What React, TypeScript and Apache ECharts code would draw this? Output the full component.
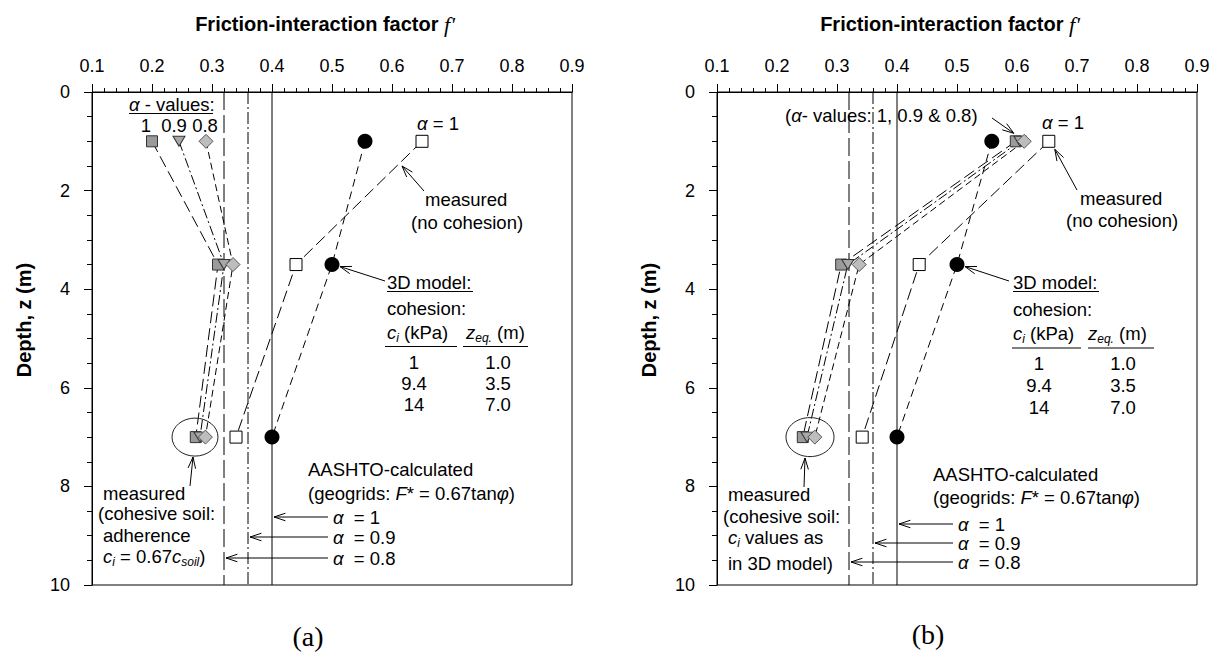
import React, { useEffect, useRef } from "react";
import * as echarts from "echarts";

// ---------- data ----------
const depths = [1, 3.5, 7];
// panel (a)
const aMeasuredNoCoh = [0.65, 0.44, 0.34];
const aModel3D = [0.555, 0.5, 0.4];
const aAlpha1 = [0.2, 0.31, 0.273];
const aAlpha09 = [0.245, 0.32, 0.28];
const aAlpha08 = [0.29, 0.335, 0.289];
// panel (b)
const bMeasuredNoCoh = [0.653, 0.437, 0.342];
const bModel3D = [0.558, 0.5, 0.4];
const bAlpha1 = [0.598, 0.307, 0.243];
const bAlpha09 = [0.605, 0.318, 0.25];
const bAlpha08 = [0.612, 0.337, 0.263];
// AASHTO-calculated f* for alpha = 1, 0.9, 0.8
const alphaValues = ["1", "0.9", "0.8"];
const aashto = [0.4, 0.36, 0.32];
// 3D model cohesion table
const cohesionKPa = ["1", "9.4", "14"];
const zEq = ["1.0", "3.5", "7.0"];

const FONT = "'Liberation Sans', Arial, Helvetica, sans-serif";
const FS = 18.5;

const RICH: any = {
  i: { fontStyle: "italic", fontSize: FS, fontFamily: FONT, lineHeight: 24 },
  s: { fontStyle: "italic", fontSize: 12, fontFamily: FONT, verticalAlign: "bottom", lineHeight: 12 },
};

function T(text: string, x: number, y: number, extra: any = {}) {
  return {
    type: "text",
    x,
    y,
    silent: true,
    z: 100,
    style: {
      text,
      fill: "#000",
      fontSize: FS,
      fontFamily: FONT,
      align: "left",
      verticalAlign: "middle",
      lineHeight: 24,
      rich: RICH,
      ...extra,
    },
  };
}
function L(x1: number, y1: number, x2: number, y2: number, extra: any = {}) {
  return {
    type: "line",
    silent: true,
    z: 100,
    shape: { x1, y1, x2, y2 },
    style: { stroke: "#000", lineWidth: 1, ...extra },
  };
}
function arrow(x1: number, y1: number, x2: number, y2: number) {
  const a = Math.atan2(y2 - y1, x2 - x1);
  const len = 12;
  const ang = 0.32;
  const p1 = [x2 - len * Math.cos(a - ang), y2 - len * Math.sin(a - ang)];
  const p2 = [x2 - len * Math.cos(a + ang), y2 - len * Math.sin(a + ang)];
  return [
    L(x1, y1, x2, y2),
    {
      type: "polyline",
      silent: true,
      z: 100,
      shape: { points: [p1, [x2, y2], p2] },
      style: { stroke: "#000", fill: null, lineWidth: 1 },
    },
  ];
}

function axesFor(gridIndex: number) {
  const x = {
    type: "value",
    gridIndex,
    position: "top",
    min: 0.1,
    max: 0.9,
    interval: 0.1,
    axisLine: { show: true, onZero: false, lineStyle: { color: "#000", width: 1 } },
    axisTick: { show: true, length: 8, lineStyle: { color: "#000", width: 1 } },
    minorTick: { show: true, splitNumber: 5, length: 4, lineStyle: { color: "#000", width: 1 } },
    splitLine: { show: false },
    minorSplitLine: { show: false },
    axisLabel: {
      fontSize: 18,
      color: "#000",
      fontFamily: FONT,
      margin: 17,
      formatter: (v: number) => v.toFixed(1),
    },
  };
  const y = {
    type: "value",
    gridIndex,
    inverse: true,
    min: 0,
    max: 10,
    interval: 2,
    axisLine: { show: true, onZero: false, lineStyle: { color: "#000", width: 1 } },
    axisTick: { show: true, length: 8, lineStyle: { color: "#000", width: 1 } },
    minorTick: { show: true, splitNumber: 4, length: 5, lineStyle: { color: "#000", width: 1 } },
    splitLine: { show: false },
    minorSplitLine: { show: false },
    axisLabel: { fontSize: 18, color: "#000", fontFamily: FONT, margin: 22 },
  };
  return { x, y };
}

const DASH_LONG = [12, 5];
const DASH_MED = [8, 5];
const DASH_DOT = [10, 3, 2, 3];
const DASH_SHORT = [7, 4];
const AASHTO_DASH: any[] = ["solid", [12, 3, 2, 3], [18, 5]];

function panelSeries(
  gi: number,
  measured: number[],
  model: number[],
  al1: number[],
  al09: number[],
  al08: number[]
) {
  const base = { type: "line", xAxisIndex: gi, yAxisIndex: gi, silent: true, animation: false };
  const s: any[] = [];
  aashto.forEach((v, i) => {
    s.push({
      ...base,
      name: `AASHTO alpha=${alphaValues[i]}`,
      data: [
        [v, 0],
        [v, 10],
      ],
      symbol: "none",
      lineStyle: { color: "#000", width: 1, type: AASHTO_DASH[i] },
    });
  });
  const pts = (arr: number[]) => arr.map((v, i) => [v, depths[i]]);
  s.push({
    ...base,
    name: "measured (no cohesion)",
    data: pts(measured),
    symbol: "rect",
    symbolSize: 12,
    itemStyle: { color: "#fff", borderColor: "#000", borderWidth: 1 },
    lineStyle: { color: "#000", width: 1, type: DASH_LONG },
  });
  s.push({
    ...base,
    name: "3D model",
    data: pts(model),
    symbol: "circle",
    symbolSize: 15,
    itemStyle: { color: "#000", borderColor: "#000", borderWidth: 0 },
    lineStyle: { color: "#000", width: 1, type: DASH_MED },
  });
  s.push({
    ...base,
    name: "alpha = 1",
    data: pts(al1),
    symbol: "rect",
    symbolSize: 11,
    itemStyle: { color: "#9a9a9a", borderColor: "#333", borderWidth: 1 },
    lineStyle: { color: "#000", width: 1, type: DASH_LONG },
  });
  s.push({
    ...base,
    name: "alpha = 0.9",
    data: pts(al09),
    symbol: "triangle",
    symbolRotate: 180,
    symbolSize: [12, 10],
    itemStyle: { color: "#a8a8a8", borderColor: "#333", borderWidth: 1 },
    lineStyle: { color: "#000", width: 1, type: DASH_DOT },
  });
  s.push({
    ...base,
    name: "alpha = 0.8",
    data: pts(al08),
    symbol: "diamond",
    symbolSize: 14,
    itemStyle: { color: "#bdbdbd", borderColor: "#555", borderWidth: 1 },
    lineStyle: { color: "#000", width: 1, type: DASH_SHORT },
  });
  return s;
}

function titleEls(cx: number, ytitleX: number) {
  return [
    {
      type: "text",
      x: cx,
      y: 24,
      silent: true,
      style: {
        text: "Friction-interaction factor {f|f'}",
        fill: "#000",
        fontSize: 20,
        fontWeight: "bold",
        fontFamily: FONT,
        align: "center",
        verticalAlign: "middle",
        rich: {
          f: { fontStyle: "italic", fontFamily: "'Liberation Serif', serif", fontSize: 22, fontWeight: "normal" },
        },
      },
    },
    {
      type: "text",
      x: ytitleX,
      y: 320,
      rotation: Math.PI / 2,
      silent: true,
      style: {
        text: "Depth, z (m)",
        fill: "#000",
        fontSize: 20,
        fontWeight: "bold",
        fontFamily: FONT,
        align: "center",
        verticalAlign: "middle",
      },
    },
  ];
}

export default function App() {
  const ref = useRef<HTMLDivElement>(null);
  useEffect(() => {
    document.body.style.margin = "0";
    const chart = echarts.init(ref.current!, null, { renderer: "svg" });
    const A = axesFor(0);
    const B = axesFor(1);
    chart.setOption({
      animation: false,
      backgroundColor: "#fff",
      grid: [
        { left: 92, top: 92, width: 480, height: 493, show: true, borderColor: "#000", borderWidth: 1, backgroundColor: "transparent" },
        { left: 717, top: 92, width: 480, height: 493, show: true, borderColor: "#000", borderWidth: 1, backgroundColor: "transparent" },
      ],
      xAxis: [A.x, B.x],
      yAxis: [A.y, B.y],
      series: [
        ...panelSeries(0, aMeasuredNoCoh, aModel3D, aAlpha1, aAlpha09, aAlpha08),
        ...panelSeries(1, bMeasuredNoCoh, bModel3D, bAlpha1, bAlpha09, bAlpha08),
      ],
    });

    const px = (gi: number, v: number) => chart.convertToPixel({ xAxisIndex: gi }, v) as number;
    const py = (gi: number, d: number) => chart.convertToPixel({ yAxisIndex: gi }, d) as number;

    const g: any[] = [];
    // ---------- panel (a) ----------
    g.push(...titleEls(325, 24));
    g.push(T("{i|α} - values:", 129, 104));
    g.push(L(129, 113.5, 213, 113.5));
    const aTop = [aAlpha1[0], aAlpha09[0], aAlpha08[0]];
    const aTopShift = [-6, -5, -1];
    alphaValues.forEach((lab, i) => {
      g.push(T(lab, px(0, aTop[i]) + aTopShift[i], 125, { align: "center" }));
    });
    g.push(T("{i|α} = 1", 417, 123));
    g.push(T("measured", 425, 199));
    g.push(T("(no cohesion)", 411, 222));
    g.push(...arrow(424, 191, 402, 166));
    g.push(T("3D model:", 387, 282));
    g.push(L(387, 291.5, 473, 291.5));
    g.push(...arrow(385, 281, px(0, aModel3D[1]) + 8, py(0, depths[1]) + 2));
    g.push(T("cohesion:", 387, 308));
    g.push(T("{i|c}{s|i} (kPa)", 387, 332));
    g.push(T("{i|z}{s|eq.} (m)", 466, 332));
    g.push(L(385, 346.5, 457, 346.5));
    g.push(L(463, 346.5, 528, 346.5));
    cohesionKPa.forEach((c, i) => {
      g.push(T(c, 414, 362 + i * 21, { align: "center" }));
      g.push(T(zEq[i], 498, 362 + i * 21, { align: "center" }));
    });
    g.push({
      type: "ellipse",
      silent: true,
      z: 100,
      shape: { cx: 195, cy: py(0, depths[2]), rx: 23, ry: 19 },
      style: { stroke: "#222", fill: null, lineWidth: 1 },
    });
    g.push(...arrow(190, 486, 193, 457));
    g.push(T("measured", 103, 493));
    g.push(T("(cohesive soil:", 98, 513));
    g.push(T("adherence", 103, 535));
    g.push(T("{i|c}{s|i} = 0.67{i|c}{s|soil})", 103, 556));
    g.push(T("AASHTO-calculated", 308, 469));
    g.push(T("(geogrids: {i|F}* = 0.67tan{i|φ})", 308, 493));
    const aLabY = [517, 537, 558];
    alphaValues.forEach((lab, i) => {
      g.push(T(`{i|α}  = ${lab}`, 333, aLabY[i]));
      g.push(...arrow(328, aLabY[i], px(0, aashto[i]) + 2, aLabY[i]));
    });
    g.push(T("(a)", 308, 636, { fontFamily: "'Liberation Serif', 'Times New Roman', serif", fontSize: 28, align: "center" }));

    // ---------- panel (b) ----------
    g.push(...titleEls(950, 649));
    g.push(T("({i|α}- values: 1, 0.9 & 0.8)", 785, 115));
    g.push(...arrow(992, 118, px(1, bAlpha1[0]) - 2, py(1, depths[0]) - 8));
    g.push(T("{i|α} = 1", 1042, 122));
    g.push(T("measured", 1080, 198));
    g.push(T("(no cohesion)", 1066, 220));
    g.push(...arrow(1077, 190, px(1, bMeasuredNoCoh[0]) + 6, py(1, depths[0]) + 8));
    g.push(T("3D model:", 1013, 282));
    g.push(L(1013, 291.5, 1099, 291.5));
    g.push(...arrow(1009, 281, px(1, bModel3D[1]) + 8, py(1, depths[1]) + 2));
    g.push(T("cohesion:", 1013, 309));
    g.push(T("{i|c}{s|i} (kPa)", 1013, 333));
    g.push(T("{i|z}{s|eq.} (m)", 1088, 333));
    g.push(L(1012, 348, 1081, 348));
    g.push(L(1088, 348, 1154, 348));
    cohesionKPa.forEach((c, i) => {
      g.push(T(c, 1039, 363 + i * 22, { align: "center" }));
      g.push(T(zEq[i], 1123, 363 + i * 22, { align: "center" }));
    });
    g.push({
      type: "ellipse",
      silent: true,
      z: 100,
      shape: { cx: 810, cy: py(1, depths[2]), rx: 24, ry: 19.5 },
      style: { stroke: "#222", fill: null, lineWidth: 1 },
    });
    g.push(...arrow(804, 487, 805, 458));
    g.push(T("measured", 728, 494));
    g.push(T("(cohesive soil:", 723, 516));
    g.push(T("{i|c}{s|i} values as", 728, 537));
    g.push(T("in 3D model)", 728, 563));
    g.push(T("AASHTO-calculated", 933, 474));
    g.push(T("(geogrids: {i|F}* = 0.67tan{i|φ})", 933, 497));
    const bLabY = [524, 543, 562];
    alphaValues.forEach((lab, i) => {
      g.push(T(`{i|α}  = ${lab}`, 958, bLabY[i]));
      g.push(...arrow(953, bLabY[i], px(1, aashto[i]) + 2, bLabY[i]));
    });
    g.push(T("(b)", 928, 634, { fontFamily: "'Liberation Serif', 'Times New Roman', serif", fontSize: 28, align: "center" }));

    chart.setOption({ graphic: g });
    return () => chart.dispose();
  }, []);
  return (
    <div
      ref={ref}
      style={{ position: "absolute", left: 0, top: 0, width: 1224, height: 652, background: "#fff" }}
    />
  );
}
